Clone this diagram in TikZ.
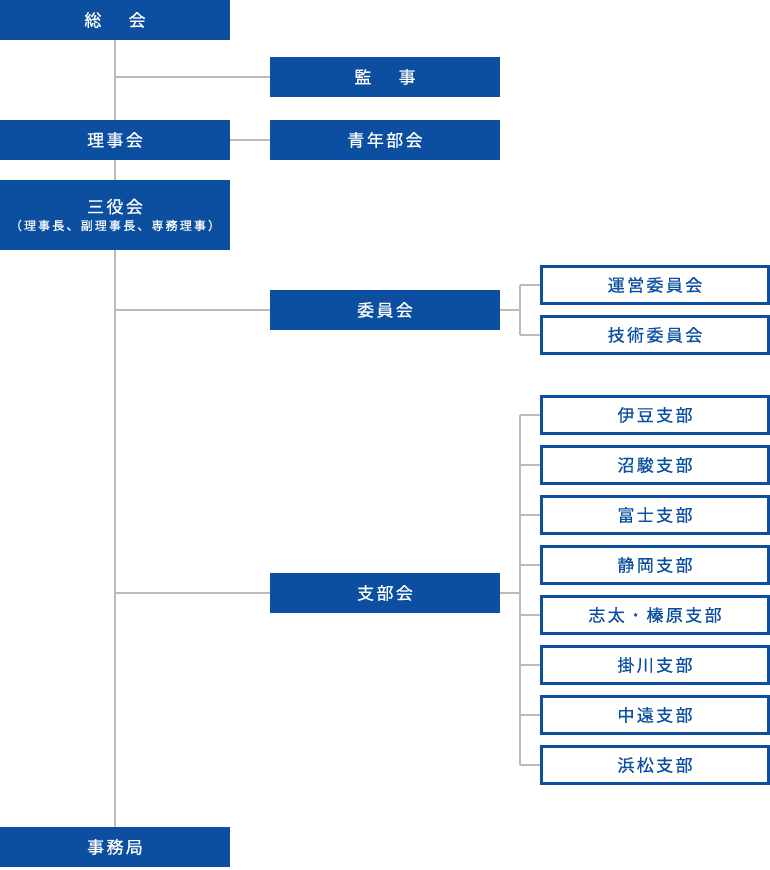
\documentclass[tikz,border=0pt]{standalone}
\usepackage{fontspec}
\usetikzlibrary{backgrounds}
\newfontfamily\jpfont[LetterSpace=14,FakeBold=0.6]{Noto Sans CJK JP}
\newfontfamily\jpsmall[LetterSpace=18,FakeBold=0.6]{Noto Sans CJK JP}
\definecolor{orgblue}{HTML}{0C4FA0}
\definecolor{linegray}{HTML}{BBBBBB}
\begin{document}
\begin{tikzpicture}[x=1pt,y=-1pt,
    filled/.style={fill=orgblue,text=white,minimum width=230pt,minimum height=40pt,
        inner sep=0pt,font=\jpfont\fontsize{17}{19}\selectfont},
    framed/.style={draw=orgblue,line width=3pt,fill=white,text=orgblue,
        minimum width=227pt,minimum height=37pt,inner sep=0pt,
        font=\jpfont\fontsize{17}{19}\selectfont},
    link/.style={draw=linegray,line width=1.5pt}]
\useasboundingbox (0,0) rectangle (770,870);
% left column
\node[filled] (sokai) at (115,20) {総\hspace{1.6em}会};
\node[filled] (riji) at (115,140) {理事会};
\node[filled,minimum height=70pt,align=center] (sanyaku) at (115,215)
    {三役会\\[-2pt]{\jpsmall\fontsize{12}{14}\selectfont （理事長、副理事長、専務理事）}};
\node[filled] (jimu) at (115,847) {事務局};
% middle column
\node[filled] (kanji) at (385,77) {監\hspace{1.6em}事};
\node[filled] (seinen) at (385,140) {青年部会};
\node[filled] (iin) at (385,310) {委員会};
\node[filled] (shibu) at (385,593) {支部会};
% committees
\node[framed] (unei) at (655,285) {運営委員会};
\node[framed] (gijutsu) at (655,335) {技術委員会};
% branches
\foreach \name/\label [count=\i] in {izu/伊豆支部,sunto/沼駿支部,fuji/富士支部,
    shizuoka/静岡支部,shida/志太・榛原支部,kakegawa/掛川支部,chuen/中遠支部,
    hamamatsu/浜松支部}
    \node[framed] (\name) at (655,365+50*\i) {\label};
% connectors
\begin{scope}[on background layer]
\draw[link] (sokai.south) -- (jimu.north);
\draw[link] (sokai.south |- kanji.west) -- (kanji.west);
\draw[link] (riji.east) -- (seinen.west);
\draw[link] (sokai.south |- iin.west) -- (iin.west);
\draw[link] (sokai.south |- shibu.west) -- (shibu.west);
\coordinate (iinfork) at (520,310);
\draw[link] (iin.east) -- (iinfork);
\draw[link] (iinfork |- unei.west) -- (iinfork |- gijutsu.west);
\draw[link] (iinfork |- unei.west) -- (unei.west);
\draw[link] (iinfork |- gijutsu.west) -- (gijutsu.west);
\coordinate (shibufork) at (520,593);
\draw[link] (shibu.east) -- (shibufork);
\draw[link] (shibufork |- izu.west) -- (shibufork |- hamamatsu.west);
\foreach \name in {izu,sunto,fuji,shizuoka,shida,kakegawa,chuen,hamamatsu}
    \draw[link] (shibufork |- \name.west) -- (\name.west);
\end{scope}
\end{tikzpicture}
\end{document}
